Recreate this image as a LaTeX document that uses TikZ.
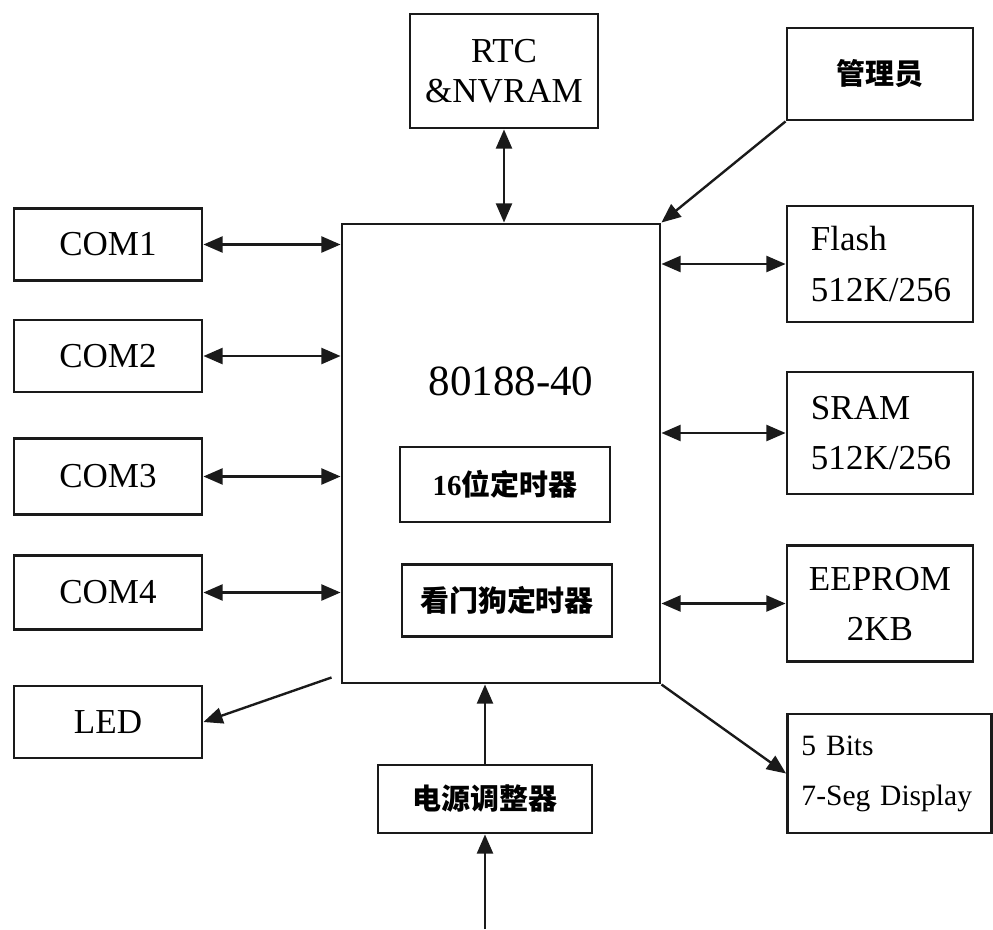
\documentclass[tikz,border=0pt]{standalone}
\usepackage{fontspec}
\usepackage{tikz}
\usepackage{xcolor}
\usetikzlibrary{arrows.meta,positioning,calc}
\setmainfont{Liberation Serif}
\newfontfamily\cjk{Noto Sans CJK SC}
\definecolor{ink}{HTML}{1A1A1A}
\newcommand{\hz}[1]{{\cjk\bfseries #1}}

\tikzset{
  blk/.style={draw=ink,line width=2pt,fill=white,inner sep=0pt,
              font=\fontsize{24.9}{28.5}\selectfont,align=center},
  memblk/.style={blk,minimum width=4.65cm,minimum height=2.9cm,
                 text width=3.45cm,align=left,inner xsep=0.6cm,
                 font=\fontsize{24.9}{35.6}\selectfont},
  inblk/.style={blk,minimum width=5.25cm,minimum height=1.8cm,
                font=\fontsize{20.6}{24}\selectfont},
  link/.style={draw=ink,line width=1.7pt},
  >={Triangle[length=4.8mm,width=4mm]}
}

\begin{document}
\begin{tikzpicture}[x=0.025cm,y=-0.025cm]
  \useasboundingbox (0,0) rectangle (993,929);

  % processor
  \node[blk,minimum width=7.95cm,minimum height=11.475cm] (cpu) at (501,453.5) {};
  \node[font=\fontsize{30.6}{34}\selectfont] (cpuname) at (511,381) {80188-40};
  \node[inblk,minimum height=1.875cm] (timer) at (505,484.5) {{\bfseries 16}\hz{位定时器}};
  \node[inblk] (wdt) at (507,600.5) {\hz{看门狗定时器}};

  % top
  \node[blk,minimum width=4.7cm,minimum height=2.85cm] (rtc) at (504,71) {RTC\\\&NVRAM};
  \node[blk,minimum width=4.65cm,minimum height=2.3cm,
        font=\fontsize{20.6}{24}\selectfont] (admin) at (880,74) {\hz{管理员}};

  % serial ports and led
  \node[blk,minimum width=4.7cm,minimum height=1.8cm] (com1) at (108,244.5) {COM1};
  \node[blk,minimum width=4.7cm,minimum height=1.8cm] (com2) at (108,356) {COM2};
  \node[blk,minimum width=4.7cm,minimum height=1.9cm] (com3) at (108,476.5) {COM3};
  \node[blk,minimum width=4.7cm,minimum height=1.85cm] (com4) at (108,592.5) {COM4};
  \node[blk,minimum width=4.7cm,minimum height=1.8cm] (led) at (108,722) {LED};

  % memories and display
  \node[memblk] (flash) at (880,264) {Flash\\512K/256};
  \node[memblk,minimum height=3.05cm] (sram) at (880,433) {SRAM\\512K/256};
  \node[blk,minimum width=4.65cm,minimum height=2.9cm,
        font=\fontsize{24.9}{35.6}\selectfont] (eeprom) at (880,603.5) {EEPROM\\2KB};
  \node[memblk,minimum width=5.1cm,minimum height=2.975cm,text width=4.4cm,
        inner xsep=0.35cm,font=\fontsize{21}{35.6}\selectfont] (disp) at (889.5,773.5) {5 Bits\\7-Seg Display};

  % power
  \node[blk,minimum width=5.35cm,minimum height=1.7cm,
        font=\fontsize{20.6}{24}\selectfont] (pwr) at (485,799) {\hz{电源调整器}};
  \coordinate (vin) at (485,929);

  % links
  \draw[link,<->] (rtc.south) -- (rtc.south |- cpu.north);
  \draw[link,->] (admin.south west) -- (cpu.north east);
  \foreach \p in {com1,com2,com3,com4}
    \draw[link,<->] (\p.east) -- (\p.east -| cpu.west);
  \foreach \m in {flash,sram,eeprom}
    \draw[link,<->] (\m.west -| cpu.east) -- (\m.west);
  \draw[link,->] ($(cpu.south west)+(-9,-7)$) -- (led.east);
  \draw[link,->] (cpu.south east) -- (disp.west);
  \draw[link,->] (pwr.north) -- (pwr.north |- cpu.south);
  \draw[link,->] (vin) -- (pwr.south);
\end{tikzpicture}
\end{document}
